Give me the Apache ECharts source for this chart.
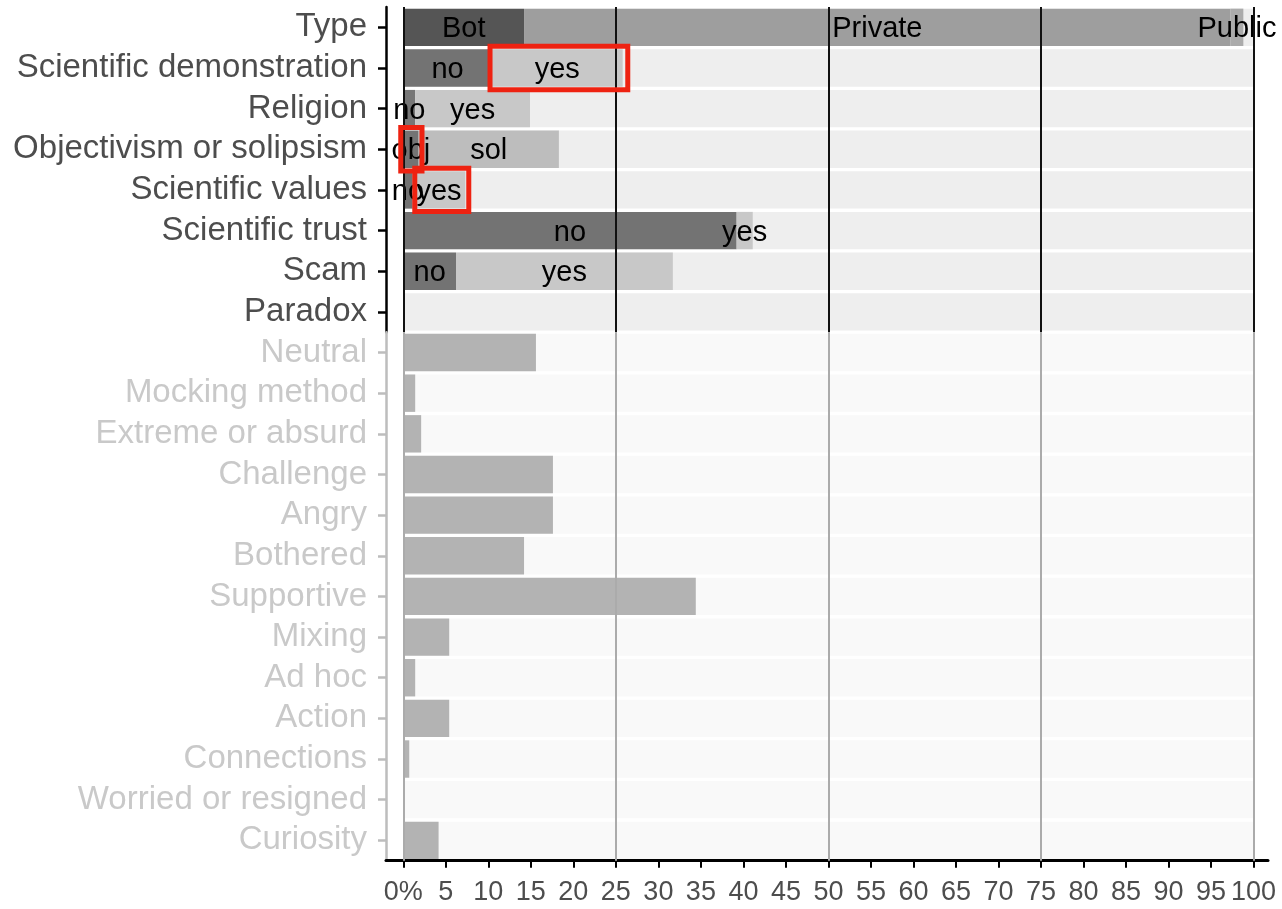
<!DOCTYPE html>
<html>
<head>
<meta charset="utf-8">
<script src="https://cdn.jsdelivr.net/npm/echarts@6/dist/echarts.min.js"></script>
<style>
html,body{margin:0;padding:0;background:#fff;}
#chart{width:1282px;height:909px;}
</style>
</head>
<body>
<div id="chart"></div>
<script>
// ---------- DATA ----------
const topCategories = ['Type','Scientific demonstration','Religion','Objectivism or solipsism','Scientific values','Scientific trust','Scam','Paradox'];
const seg1Labels = ['Bot','no','no','obj','no','no','no',''];
const seg1Values = [14.2, 10.4, 1.4, 1.8, 1.1, 39.2, 6.2, 0];
const seg2Labels = ['Private','yes','yes','sol','yes','yes','yes',''];
const seg2Values = [83.1, 15.4, 13.5, 16.5, 6.2, 1.9, 25.5, 0];
const seg3Labels = ['Public','','','','','','',''];
const seg3Values = [1.5, 0, 0, 0, 0, 0, 0, 0];

const bottomCategories = ['Neutral','Mocking method','Extreme or absurd','Challenge','Angry','Bothered','Supportive','Mixing','Ad hoc','Action','Connections','Worried or resigned','Curiosity'];
const bottomValues = [15.6, 1.4, 2.1, 17.6, 17.6, 14.2, 34.4, 5.4, 1.4, 5.4, 0.7, 0, 4.15];

const xTickValues = [0,5,10,15,20,25,30,35,40,45,50,55,60,65,70,75,80,85,90,95,100];
const gridLineValues = [0,25,50,75,100];
const fullScale = 100;

// highlighted (red boxes): [xStart, xEnd, row index in topCategories]
const highlights = [[10.2, 26.4, 1], [-0.3, 2.2, 3], [1.35, 7.7, 4]];

// ---------- STYLES ----------
const seg1Colors = ['#555555','#737373','#777777','#747474','#737373','#737373','#737373','#737373'];
const seg2Colors = ['#9e9e9e','#c8c8c8','#c8c8c8','#bdbdbd','#c8c8c8','#c8c8c8','#c8c8c8','#c8c8c8'];
const seg3Colors = ['#ababab','#c8c8c8','#c8c8c8','#c8c8c8','#c8c8c8','#c8c8c8','#c8c8c8','#c8c8c8'];
const FONT = '"Liberation Sans", Arial, Helvetica, sans-serif';
const X_MIN = -2.035, X_MAX = 101.7;
const GAP = '8%';

function segSeries(name, values, labels, colors) {
  return {
    name: name, type: 'bar', stack: 'top', xAxisIndex: 0, yAxisIndex: 0,
    barGap: '-100%', barCategoryGap: GAP, z: 3,
    data: values.map((v, i) => ({ value: v, itemStyle: { color: colors[i] } })),
    label: {
      show: true, position: 'inside', color: '#000', fontSize: 29, fontFamily: FONT,
      offset: [0, 2],
      formatter: p => labels[p.dataIndex]
    },
    emphasis: { disabled: true }, silent: true
  };
}

const chart = echarts.init(document.getElementById('chart'), null, { renderer: 'canvas' });

const option = {
  backgroundColor: '#ffffff',
  animation: false,
  grid: [
    { left: 386, right: 14, top: 7, height: 325.2, containLabel: false },
    { left: 386, right: 14, top: 332.2, height: 528.45, containLabel: false }
  ],
  xAxis: [
    { gridIndex: 0, type: 'value', min: X_MIN, max: X_MAX, show: false, splitLine: { show: false } },
    {
      gridIndex: 1, type: 'value', min: X_MIN, max: X_MAX,
      splitLine: { show: false },
      axisLine: { show: true, onZero: false, lineStyle: { color: '#000', width: 3 } },
      axisTick: { show: true, customValues: xTickValues, length: 7, lineStyle: { color: '#000', width: 2 } },
      axisLabel: {
        show: true, customValues: xTickValues, margin: 18, hideOverlap: false,
        showMinLabel: true, showMaxLabel: true,
        color: '#4d4d4d', fontSize: 27, fontFamily: FONT,
        formatter: v => (v === 0 ? '0%' : String(v))
      }
    }
  ],
  yAxis: [
    {
      gridIndex: 0, type: 'category', data: topCategories, inverse: true,
      axisLine: { show: true, onZero: false, lineStyle: { color: '#000', width: 2.5 } },
      axisTick: { show: true, alignWithLabel: true, interval: 0, length: 8, lineStyle: { color: '#000', width: 2.5 } },
      axisLabel: { interval: 0, color: '#4d4d4d', fontSize: 33, fontFamily: FONT, margin: 19, hideOverlap: false, padding: [5, 0, 0, 0] },
      splitLine: { show: false }
    },
    {
      gridIndex: 1, type: 'category', data: bottomCategories, inverse: true,
      axisLine: { show: true, onZero: false, lineStyle: { color: '#bdbdbd', width: 2.5 } },
      axisTick: { show: true, alignWithLabel: true, interval: 0, length: 8, lineStyle: { color: '#bdbdbd', width: 2.5 } },
      axisLabel: { interval: 0, color: '#c9c9c9', fontSize: 33, fontFamily: FONT, margin: 19, hideOverlap: false, padding: [5, 0, 0, 0] },
      splitLine: { show: false }
    }
  ],
  series: [
    {
      type: 'bar', xAxisIndex: 0, yAxisIndex: 0, barGap: '-100%', barCategoryGap: GAP, z: 1,
      data: topCategories.map(() => fullScale), itemStyle: { color: '#eeeeee' }, silent: true
    },
    segSeries('seg1', seg1Values, seg1Labels, seg1Colors),
    segSeries('seg2', seg2Values, seg2Labels, seg2Colors),
    segSeries('seg3', seg3Values, seg3Labels, seg3Colors),
    {
      type: 'line', xAxisIndex: 0, yAxisIndex: 0, data: [], z: 6, silent: true,
      markLine: {
        silent: true, symbol: ['none', 'none'], label: { show: false }, animation: false,
        lineStyle: { color: '#111111', width: 2, type: 'solid' },
        data: gridLineValues.map(v => ({ xAxis: v }))
      }
    },
    {
      type: 'custom', xAxisIndex: 0, yAxisIndex: 0, z: 10, silent: true,
      data: highlights,
      encode: { x: [0, 1], y: 2 },
      renderItem: function (params, api) {
        const p0 = api.coord([api.value(0), api.value(2)]);
        const p1 = api.coord([api.value(1), api.value(2)]);
        const h = api.size([0, 1])[1] * 0.92 + 6;
        return {
          type: 'rect',
          shape: { x: p0[0], y: p0[1] - h / 2, width: p1[0] - p0[0], height: h },
          style: { fill: 'none', stroke: '#ee2211', lineWidth: 5 }
        };
      }
    },
    {
      type: 'bar', xAxisIndex: 1, yAxisIndex: 1, barGap: '-100%', barCategoryGap: GAP, z: 1,
      data: bottomCategories.map(() => fullScale), itemStyle: { color: '#f9f9f9' }, silent: true
    },
    {
      type: 'bar', xAxisIndex: 1, yAxisIndex: 1, barGap: '-100%', barCategoryGap: GAP, z: 3,
      data: bottomValues, itemStyle: { color: '#b3b3b3' }, silent: true
    },
    {
      type: 'line', xAxisIndex: 1, yAxisIndex: 1, data: [], z: 6, silent: true,
      markLine: {
        silent: true, symbol: ['none', 'none'], label: { show: false }, animation: false,
        lineStyle: { color: '#ababab', width: 2, type: 'solid' },
        data: gridLineValues.map(v => ({ xAxis: v }))
      }
    }
  ]
};
chart.setOption(option);
</script>
</body>
</html>
